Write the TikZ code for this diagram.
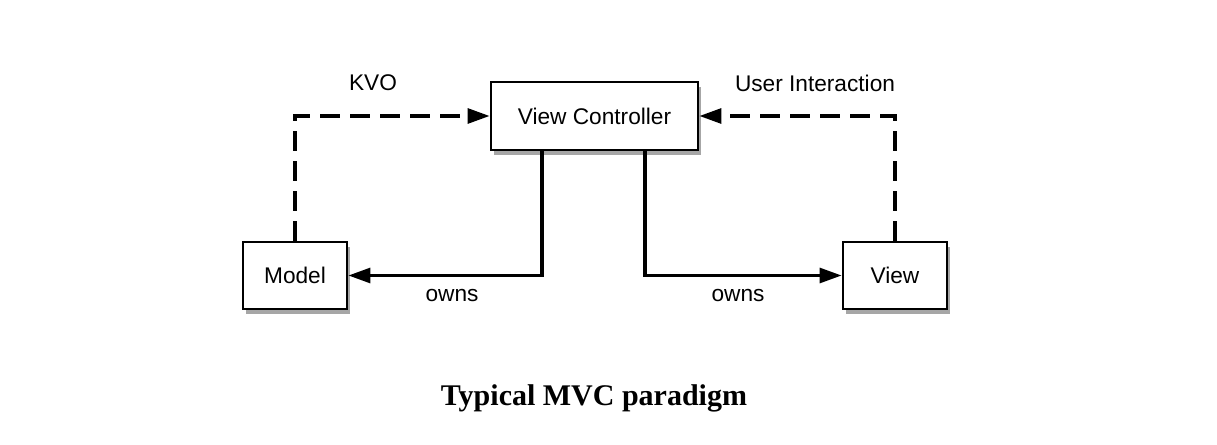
\documentclass[tikz,border=0pt]{standalone}
\usepackage{fontspec}
\setmainfont{Liberation Serif}
\setsansfont{Liberation Sans}
\usetikzlibrary{arrows.meta,shadows}

\begin{document}
\begin{tikzpicture}[x=0.75pt,y=-0.75pt,
        box/.style={draw,line width=1.9pt,fill=white,font=\sffamily\fontsize{17}{20}\selectfont,
            drop shadow={shadow xshift=2.5pt,shadow yshift=-3.5pt,fill=black,opacity=0.35}},
        lbl/.style={font=\sffamily\fontsize{17}{20}\selectfont},
        link/.style={line width=2.7pt,-{Triangle[length=16.5pt,width=11pt]}},
        notify/.style={link,dash pattern=on 15pt off 7.5pt}]
        \useasboundingbox (0,0) rectangle (1217,445);
        \node[box,minimum width=155.25pt,minimum height=51pt] (vc) at (594.5,116) {View Controller};
        \node[box,minimum width=78pt,minimum height=50.25pt] (model) at (295,275.5) {Model};
        \node[box,minimum width=78pt,minimum height=50.25pt] (view) at (895,275.5) {View};
        \coordinate (vcl) at (542,150);
        \coordinate (vcr) at (645,150);
        \draw[notify] (model.north) |- (vc.west);
        \draw[notify] (view.north) |- (vc.east);
        \draw[link] (vcl) |- (model.east);
        \draw[link] (vcr) |- (view.west);
        \node[lbl] (kvo) at (373,83) {KVO};
        \node[lbl] (user) at (815,83) {User Interaction};
        \node[lbl] (ownsm) at (452,296) {owns};
        \node[lbl] (ownsv) at (738,296) {owns};
        \node[font=\bfseries\fontsize{22.5}{27}\selectfont] (caption) at (594,398) {Typical MVC paradigm};
    \end{tikzpicture}
\end{document}
